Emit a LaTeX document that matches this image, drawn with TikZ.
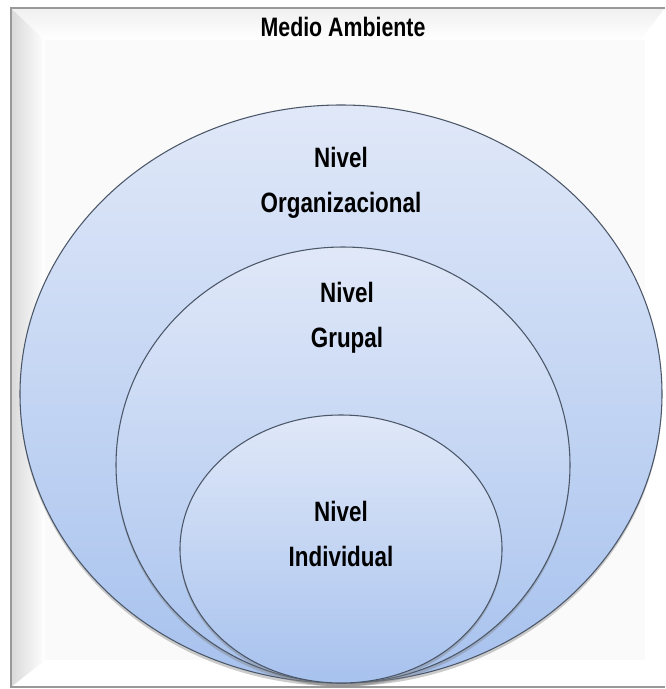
\documentclass[tikz,border=0pt]{standalone}
\usepackage{fontspec}
\newfontfamily\narrowfont[FakeStretch=0.8]{Liberation Sans}
\usetikzlibrary{shadows}
\definecolor{rim}{HTML}{4B5768}
\definecolor{bluetop}{HTML}{E0E8F8}
\definecolor{bluebot}{HTML}{A7C2EE}
\definecolor{bevel}{HTML}{D9D9D9}
\tikzset{
  frameline/.style={draw=black!40, line width=0.9pt},
  level/.style={draw=rim, line width=0.8pt, top color=bluetop, bottom color=bluebot,
    drop shadow={opacity=0.4, shadow xshift=0pt, shadow yshift=-2.5pt}},
  lab/.style={font=\narrowfont\bfseries\fontsize{21}{34}\selectfont, text=black, align=center},
}
\begin{document}
\begin{tikzpicture}[x=0.75pt, y=-0.75pt]
  \useasboundingbox (0,0) rectangle (665,689);
  % bevelled frame
  \fill[white] (0,0) rectangle (665,689);
  \shade[left color=bevel, right color=white] (11,8) -- (45,40) -- (45,660) -- (11,687) -- cycle;
  \shade[top color=black!6, bottom color=white] (11,8) -- (665,8) -- (640,40) -- (45,40) -- cycle;
  \fill[black!2] (45,40) rectangle (645,660);
  \draw[frameline] (665,8) -- (11,8) -- (11,687) -- (665,687);
  \node[lab, font=\narrowfont\bfseries\fontsize{20}{24}\selectfont] (env) at (343,27) {Medio Ambiente};
  % nested levels
  \coordinate (orgc) at (341,394);
  \coordinate (grpc) at (343,465);
  \coordinate (indc) at (341,549);
  \draw[level] (orgc) ellipse [x radius=240.75pt, y radius=216.75pt];
  \draw[level] (grpc) ellipse [x radius=170.25pt, y radius=163.5pt];
  \draw[level] (indc) ellipse [x radius=120.75pt, y radius=100.5pt];
  \node[lab] (org) at (341,183) {Nivel\\Organizacional};
  \node[lab] (grp) at (347,318) {Nivel\\Grupal};
  \node[lab] (ind) at (341,534) {Nivel\\Individual};
\end{tikzpicture}
\end{document}
